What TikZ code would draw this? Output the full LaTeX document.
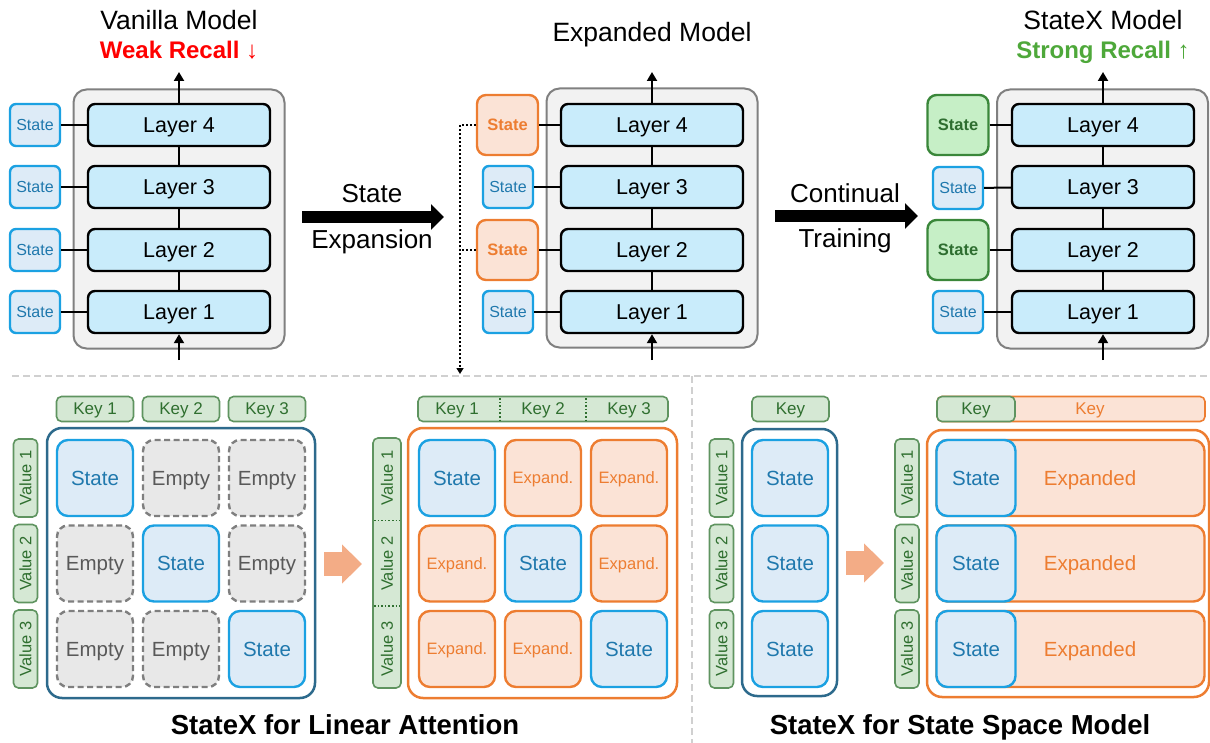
\documentclass[tikz,border=0pt]{standalone}
\usepackage{fontspec}
\setmainfont{Liberation Sans}
\usetikzlibrary{arrows.meta,positioning}

\definecolor{boxgray}{HTML}{F2F2F2}
\definecolor{edgegray}{HTML}{808080}
\definecolor{layerblue}{HTML}{C9ECFB}
\definecolor{statefill}{HTML}{DDEBF7}
\definecolor{stateedge}{HTML}{1BA1E2}
\definecolor{statetext}{HTML}{1F78AD}
\definecolor{expfill}{HTML}{FBE3D6}
\definecolor{expedge}{HTML}{ED7D31}
\definecolor{newfill}{HTML}{C6EFC6}
\definecolor{newedge}{HTML}{3A873A}
\definecolor{newtext}{HTML}{2E6E30}
\definecolor{tagfill}{HTML}{D5E8D4}
\definecolor{tagedge}{HTML}{5F9460}
\definecolor{tagtext}{HTML}{2F6F2F}
\definecolor{emptyfill}{HTML}{E8E8E8}
\definecolor{emptyedge}{HTML}{7F7F7F}
\definecolor{emptytext}{HTML}{595959}
\definecolor{framedark}{HTML}{2D6A8C}
\definecolor{fatorange}{HTML}{F3AC86}
\definecolor{recallred}{HTML}{FF0000}
\definecolor{recallgreen}{HTML}{4EA83A}
\definecolor{sepgray}{HTML}{D0D0D0}

\newcommand{\fsz}[1]{\fontsize{#1}{#1}\selectfont}

\begin{document}
\begin{tikzpicture}[x=1pt,y=-1pt,
    modelbox/.style={draw=edgegray, line width=2pt, fill=boxgray, rounded corners=13pt,
      minimum width=211pt, minimum height=259pt, inner sep=0pt},
    layer/.style={draw=black, line width=2.4pt, fill=layerblue, rounded corners=7pt,
      minimum width=182pt, minimum height=42pt, inner sep=0pt, text depth=0pt, font=\fsz{21.5}},
    oldstate/.style={draw=stateedge, line width=2.4pt, fill=statefill, rounded corners=6pt,
      minimum width=50pt, minimum height=42pt, inner sep=0pt, text depth=0pt, text=statetext, font=\fsz{16}},
    expstate/.style={draw=expedge, line width=2.4pt, fill=expfill, rounded corners=9pt,
      minimum width=61pt, minimum height=60pt, inner sep=0pt, text depth=0pt, text=expedge, font=\bfseries\fsz{16.5}},
    newstate/.style={expstate, draw=newedge, fill=newfill, text=newtext},
    link/.style={draw=black, line width=2pt},
    flow/.style={link, -{Triangle[length=9pt,width=10pt]}},
    bigarrow/.style={line width=12pt, -{Triangle[length=13pt,width=25pt]}},
    fatarrow/.style={fatorange, line width=24pt, -{Triangle[length=20pt,width=38pt]}},
    dotline/.style={line width=2pt, dash pattern=on 2pt off 2pt},
    title/.style={font=\fsz{26.5}},
    cell/.style={rounded corners=11pt, minimum width=76pt, minimum height=76pt,
      inner sep=0pt, text depth=0pt, line width=2.4pt, font=\fsz{20.5}},
    gridstate/.style={cell, draw=stateedge, fill=statefill, text=statetext},
    emptycell/.style={cell, draw=emptyedge, fill=emptyfill, text=emptytext, dash pattern=on 6pt off 3.5pt},
    expcell/.style={cell, draw=expedge, fill=expfill, text=expedge, font=\fsz{16.5}},
    tag/.style={draw=tagedge, line width=1.6pt, fill=tagfill, rounded corners=5pt,
      inner sep=0pt, text depth=0pt, text=tagtext, font=\fsz{17}},
    kdiv/.style={draw=tagtext, line width=1.6pt, dash pattern=on 1.6pt off 2pt},
    frame/.style={line width=2.5pt, rounded corners=15pt},
    sep/.style={sepgray, line width=2.5pt, dash pattern=on 7pt off 4pt}]
\useasboundingbox (0,0) rectangle (1210,743);

% ---------- vanilla model ----------
\node[modelbox] (vbox) at (179,219) {};
\foreach \i/\y in {1/312,2/250,3/187,4/125}{
  \node[layer] (van\i) at (179,\y) {Layer \i};
  \node[oldstate] (vst\i) at (35,\y) {State};
  \draw[link] (vst\i) -- (van\i);
}
\foreach \i/\j in {1/2,2/3,3/4} \draw[link] (van\i) -- (van\j);
\coordinate (vout) at (179,72);
\coordinate (vin) at (179,360);
\draw[flow] (van4) -- (vout);
\draw[flow] (vin) -- (van1);
\node[title] (vtitle) at (179,20) {Vanilla Model};
\node[font=\bfseries\fsz{24}, text=recallred] (vrecall) at (179,50) {Weak Recall ↓};

% state expansion arrow
\coordinate (ea1) at (302,217);
\coordinate (ea2) at (444,217);
\draw[bigarrow] (ea1) -- (ea2);
\node[font=\fsz{26}] (lstate) at (372,194) {State};
\node[font=\fsz{26}] (lexp) at (372,242) {Expansion};

% ---------- expanded model ----------
\node[modelbox] (ebox) at (652,218) {};
\foreach \i/\y in {1/312,2/250,3/187,4/125}
  \node[layer] (em\i) at (652,\y) {Layer \i};
\node[oldstate] (est1) at (508,312) {State};
\node[expstate] (est2) at (507.5,250) {State};
\node[oldstate] (est3) at (508,187) {State};
\node[expstate] (est4) at (507.5,125) {State};
\foreach \i in {1,...,4} \draw[link] (est\i) -- (em\i);
\foreach \i/\j in {1/2,2/3,3/4} \draw[link] (em\i) -- (em\j);
\coordinate (eout) at (652,72);
\coordinate (ein) at (652,360);
\draw[flow] (em4) -- (eout);
\draw[flow] (ein) -- (em1);
\node[title] (etitle) at (652,35) {Expanded Model};

% dotted pointer down to the lower half
\coordinate (dend) at (460,374);
\draw[dotline, -{Triangle[length=6pt,width=7pt]}] (est4.west) -| (dend);
\draw[dotline] (est2.west) -- (est2.west -| dend);

% continual training arrow
\coordinate (ca1) at (775,216);
\coordinate (ca2) at (918,216);
\draw[bigarrow] (ca1) -- (ca2);
\node[font=\fsz{26}] (lcont) at (845,193) {Continual};
\node[font=\fsz{26}] (ltrain) at (845,241) {Training};

% ---------- statex model ----------
\node[modelbox] (xbox) at (1102.5,219) {};
\foreach \i/\y in {1/312,2/250,3/187,4/125}
  \node[layer] (xm\i) at (1103,\y) {Layer \i};
\node[oldstate] (xst1) at (958,312) {State};
\node[newstate] (xst2) at (958,250) {State};
\node[oldstate] (xst3) at (958,188) {State};
\node[newstate] (xst4) at (958,125) {State};
\foreach \i in {1,...,4} \draw[link] (xst\i) -- (xm\i);
\foreach \i/\j in {1/2,2/3,3/4} \draw[link] (xm\i) -- (xm\j);
\coordinate (xout) at (1103,72);
\coordinate (xin) at (1103,360);
\draw[flow] (xm4) -- (xout);
\draw[flow] (xin) -- (xm1);
\node[title] (xtitle) at (1103,20) {StateX Model};
\node[font=\bfseries\fsz{24}, text=recallgreen] (xrecall) at (1103,52) {Strong Recall ↑};

% separators
\draw[sep] (12,376) -- (1208,376);
\draw[sep] (692,376) -- (692,743);

% ---------- linear attention, before ----------
\draw[frame, framedark] (47,428) rectangle (315,698);
\foreach \c/\cx in {1/95,2/181,3/267}
  \node[tag, minimum width=77pt, minimum height=25pt] (lk\c) at (\cx,409) {Key \c};
\foreach \r/\ry in {1/478,2/563.5,3/649}{
  \node[tag, rotate=90, minimum width=78pt, minimum height=24pt, font=\fsz{16.5}] (lv\r) at (25.5,\ry) {Value \r};
  \foreach \c/\cx in {1/95,2/181,3/267}{
    \ifnum\r=\c
      \node[gridstate] (lin\r\c) at (\cx,\ry) {State};
    \else
      \node[emptycell] (lin\r\c) at (\cx,\ry) {Empty};
    \fi
  }
}

\coordinate (fa1) at (324,564);
\coordinate (fa2) at (362,564);
\draw[fatarrow] (fa1) -- (fa2);

% ---------- linear attention, expanded ----------
\draw[frame, expedge] (408,428) rectangle (677,698);
\node[tag, minimum width=250pt, minimum height=25pt] (rkey) at (543,409) {};
\foreach \c/\cx in {1/457,2/543,3/629}
  \node[text=tagtext, text depth=0pt, font=\fsz{17}] (rk\c) at (\cx,409) {Key \c};
\draw[kdiv] (500,398) -- (500,420);
\draw[kdiv] (586,398) -- (586,420);
\node[tag, minimum width=28pt, minimum height=250pt] (rval) at (387,563) {};
\draw[kdiv] (374,520.5) -- (400,520.5);
\draw[kdiv] (374,606) -- (400,606);
\foreach \r/\ry in {1/478,2/563.5,3/649}{
  \node[rotate=90, text=tagtext, text depth=0pt, font=\fsz{16.5}] (rv\r) at (387,\ry) {Value \r};
  \foreach \c/\cx in {1/457,2/543,3/629}{
    \ifnum\r=\c
      \node[gridstate] (linx\r\c) at (\cx,\ry) {State};
    \else
      \node[expcell] (linx\r\c) at (\cx,\ry) {Expand.};
    \fi
  }
}
\node[font=\bfseries\fsz{27.5}] (latitle) at (345,725) {StateX for Linear Attention};

% ---------- state space model, before ----------
\draw[frame, framedark] (742,429) rectangle (837,696);
\node[tag, minimum width=77pt, minimum height=25pt] (sk) at (790.5,409) {Key};
\foreach \r/\ry in {1/478,2/563.5,3/649}{
  \node[tag, rotate=90, minimum width=78pt, minimum height=24pt, font=\fsz{16.5}] (sv\r) at (721.5,\ry) {Value \r};
  \node[gridstate] (ssm\r) at (790,\ry) {State};
}

\coordinate (fb1) at (846,563);
\coordinate (fb2) at (884,563);
\draw[fatarrow] (fb1) -- (fb2);

% ---------- state space model, expanded ----------
\draw[frame, expedge] (927,430) rectangle (1209,697);
\node[tag, draw=expedge, fill=expfill, minimum width=268pt, minimum height=25pt] (skx) at (1071,409) {};
\node[tag, minimum width=78pt, minimum height=25pt] (skx1) at (976,409) {Key};
\node[text=expedge, text depth=0pt, font=\fsz{17}] (skx2) at (1090,409) {Key};
\foreach \r/\ry in {1/478,2/563.5,3/649}{
  \node[tag, rotate=90, minimum width=78pt, minimum height=24pt, font=\fsz{16.5}] (svx\r) at (907,\ry) {Value \r};
  \node[expcell, minimum width=268pt] (ssmrow\r) at (1070.5,\ry) {};
  \node[gridstate, minimum width=79pt] (ssmx\r) at (976,\ry) {State};
  \node[text=expedge, text depth=0pt, font=\fsz{20.5}] (ssmt\r) at (1090,\ry) {Expanded};
}
\node[font=\bfseries\fsz{27.5}] (ssmtitle) at (960,727) {StateX for State Space Model};
\end{tikzpicture}
\end{document}
